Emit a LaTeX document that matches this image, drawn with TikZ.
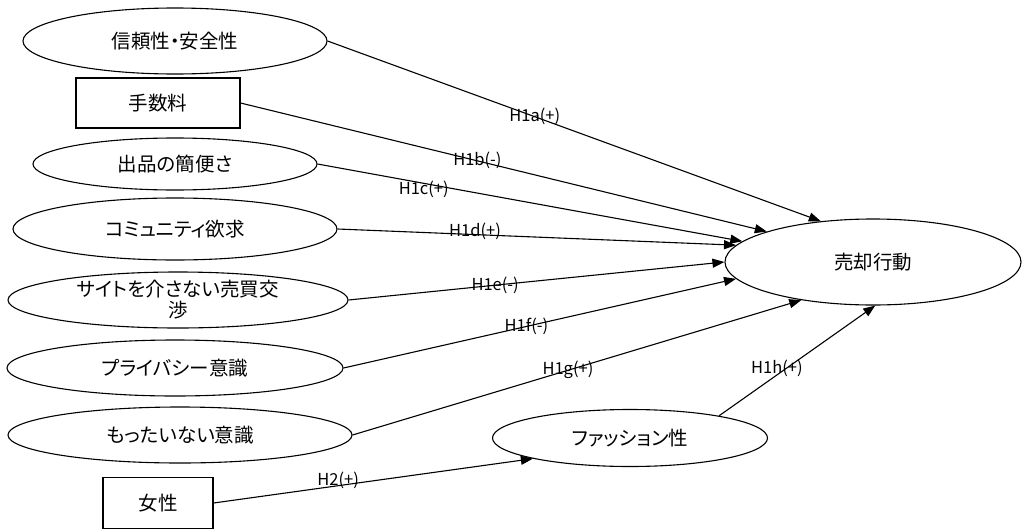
\documentclass[tikz,border=0pt]{standalone}
\usepackage{fontspec}
\newfontfamily\jpfont{Noto Sans CJK JP}[RawFeature=+palt]
\newfontfamily\labfont{Noto Sans CJK JP}
\usetikzlibrary{arrows.meta,shapes.geometric}
\begin{document}
\begin{tikzpicture}[x=1pt,y=-1pt,
  oval/.style={ellipse, draw, line width=1.1pt, inner sep=0pt,
    font=\jpfont\fontsize{19.5}{21}\selectfont, align=center},
  sq/.style={rectangle, draw, line width=1.1pt, inner sep=0pt,
    font=\jpfont\fontsize{19.5}{21}\selectfont},
  link/.style={draw, line width=1.1pt, -{Triangle[length=12pt,width=9pt]}},
  hlab/.style={font=\labfont\fontsize{16.5}{18}\selectfont, inner sep=0pt}]
\useasboundingbox[fill=white] (0,0) rectangle (1022,530);

% explanatory constructs
\node[oval, minimum width=304pt, minimum height=66pt] (trust) at (175,41) {信頼性・安全性};
\node[sq, minimum width=164pt, minimum height=50pt] (fee) at (158,103) {手数料};
\node[oval, minimum width=284pt, minimum height=52pt] (ease) at (175,164) {出品の簡便さ};
\node[oval, minimum width=324pt, minimum height=62pt] (comm) at (175,229) {コミュニティ欲求};
\node[oval, minimum width=340pt, minimum height=56pt] (nego) at (178,300) {サイトを介さない売買交\\渉};
\node[oval, minimum width=336pt, minimum height=56pt] (priv) at (175,368) {プライバシー意識};
\node[oval, minimum width=344pt, minimum height=56pt] (waste) at (180,435) {もったいない意識};
\node[sq, minimum width=110pt, minimum height=51pt] (female) at (158,503) {女性};
\node[oval, minimum width=275pt, minimum height=57pt] (fash) at (630,438) {ファッション性};

% outcome
\node[oval, minimum width=296pt, minimum height=86pt] (sell) at (873,262) {売却行動};

% hypothesised paths
\draw[link] (trust.east) -- (sell.142) node[hlab, pos=0.42] {H1a(+)};
\draw[link] (fee.east) -- (sell.164) node[hlab, pos=0.45] {H1b(-)};
\draw[link] (ease.east) -- (sell.171) node[hlab, pos=0.25, yshift=-6pt] {H1c(+)};
\draw[link] (comm.east) -- (sell.173) node[hlab, pos=0.345, yshift=3pt] {H1d(+)};
\draw[link] (nego.east) -- (sell.180) node[hlab, pos=0.39] {H1e(-)};
\draw[link] (priv.east) -- (sell.187) node[hlab, pos=0.466] {H1f(-)};
\draw[link] (waste.east) -- (sell.208) node[hlab, pos=0.48] {H1g(+)};
\draw[link] (fash.14) -- (sell.273) node[hlab, pos=0.37, yshift=7pt] {H1h(+)};
\draw[link] (female.east) -- (fash.192) node[hlab, pos=0.39, yshift=5pt] {H2(+)};
\end{tikzpicture}
\end{document}
